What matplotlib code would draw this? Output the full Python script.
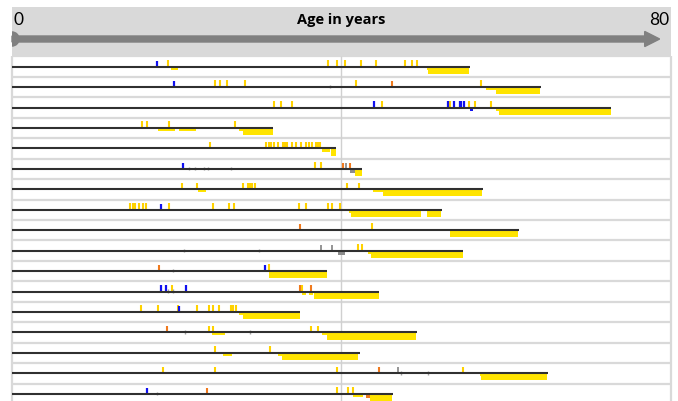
import numpy as np
import matplotlib.pyplot as plt
from matplotlib.patches import Rectangle, Ellipse, FancyArrow

# one entry per person (row), ages in years
life_end = [55.65, 64.28, 72.79, 31.70, 39.45, 42.55, 57.26, 52.28, 61.61,
            54.80, 38.33, 44.58, 35.02, 49.20, 42.31, 65.13, 46.32]

yellow_ticks = [
    [18.97, 38.38, 39.48, 40.52, 42.40, 44.29, 47.74, 48.63, 49.20],
    [24.68, 25.29, 26.18, 28.29, 41.86, 57.06],
    [31.85, 32.71, 34.04, 44.95, 53.25, 55.53, 56.26, 58.20],
    [15.84, 16.45, 19.09, 27.11],
    [24.04, 30.9, 31.2, 31.45, 31.89, 32.38, 33.0, 33.2, 33.45, 34.0, 34.5,
     35.1, 35.7, 36.1, 36.5, 36.9, 37.2, 37.5],
    [36.84, 37.57],
    [20.63, 22.53, 28.12, 28.73, 28.94, 29.14, 29.54, 40.73, 42.15],
    [14.35, 14.67, 14.99, 15.40, 15.96, 16.29, 19.09, 24.40, 26.35, 26.99,
     34.86, 35.74, 38.42, 38.94, 39.84],
    [43.81],
    [42.07, 42.55],
    [31.21],
    [19.45, 35.22],
    [15.65, 17.79, 20.22, 22.53, 23.91, 24.40, 25.13, 26.63, 26.91, 27.23],
    [23.91, 24.40, 36.35, 37.17],
    [24.64, 31.37],
    [18.32, 24.68, 39.48, 54.87],
    [39.48, 40.85, 41.46],
]
blue_ticks = [
    [17.59], [19.70], [43.98, 52.97, 53.78, 54.47, 54.63, 54.92], [], [],
    [20.75], [], [18.15], [], [], [30.76], [18.08, 18.69, 21.19], [20.30],
    [], [], [], [16.45],
]
orange_ticks = [
    [], [46.16], [], [], [], [40.21, 41.13], [], [], [35.02], [], [17.87],
    [35.02, 36.32], [], [18.81], [], [44.58], [23.74],
]
# taller grey marks above the line
gray_ticks = [
    [], [], [], [], [], [40.55], [], [], [], [37.53, 38.94], [], [], [], [],
    [], [46.93], [],
]
# tiny grey marks sitting on the line
gray_dots = [
    [], [38.66], [], [], [], [21.5, 22.2, 23.3, 23.8, 26.59], [], [], [],
    [20.95, 30.07], [19.57], [18.93, 19.57], [], [21.03, 28.94],
    [], [47.33, 50.58], [17.59],
]
# (start, end) of thick yellow periods under the line
yellow_bars = [
    [(50.58, 55.56)], [(58.81, 64.16)], [(59.17, 72.79)], [(28.05, 31.70)],
    [(38.78, 39.45)], [(41.67, 42.55)], [(45.11, 57.14)],
    [(41.25, 49.69), (50.49, 52.12)], [(53.25, 61.52)], [(43.61, 54.80)],
    [(31.28, 38.33)], [(36.75, 44.58)], [(28.05, 35.02)], [(38.30, 49.08)],
    [(32.79, 42.07)], [(56.99, 65.05)], [(43.56, 46.24)],
]
# thin yellow periods under the line
thin_bars = [
    [(19.33, 20.18), (50.45, 50.6)], [(57.59, 58.81)], [(58.9, 59.17)],
    [(17.75, 19.82), (20.30, 22.33), (27.60, 28.05)], [(37.69, 38.72)], [],
    [(22.65, 23.59), (43.89, 45.11)], [(41.0, 41.25)], [], [(43.32, 43.61)],
    [], [(35.22, 35.74), (36.15, 36.63)], [(27.60, 28.05)],
    [(24.35, 25.93), (37.69, 38.30)], [(25.69, 26.71), (32.38, 32.79)],
    [(56.86, 56.99)], [(41.46, 42.67)],
]
gray_bars = [[], [], [], [], [], [(41.09, 41.67)], [], [], [], [(39.64, 40.49)],
             [], [], [], [], [], [], []]
orange_bars = [[], [], [], [], [], [], [], [], [], [], [], [], [], [], [], [],
               [(43.00, 43.56)]]
blue_bars = [[], [], [(55.65, 56.05)], [], [], [], [], [], [], [], [], [], [],
             [], [], [], []]

YELLOW = '#FFE400'
TICK_Y = '#FFD200'
BLUE = '#1010F0'
ORANGE = '#F07A1E'
GRAY = '#8C8C8C'

fig = plt.figure(figsize=(6.78, 4.01), dpi=100)
ax = fig.add_axes([0, 0, 1, 1])
ax.set_xlim(-1.459, 80.97)
ax.set_ylim(16.355, -3.263)
ax.axis('off')

n = len(life_end)
rows = np.arange(n)

# header band with the age arrow
band = Rectangle((-0.03, -2.935), 80.15, 2.46, facecolor='#D9D9D9', edgecolor='none', zorder=1)
ax.add_patch(band)
ax.add_patch(FancyArrow(0, -1.355, 78.74, 0, width=0.294, head_width=0.74,
                        head_length=1.82, length_includes_head=True,
                        color='#808080', zorder=2))
dot = Ellipse((0, -1.355), 1.7, 0.69, color='#808080', zorder=2)
ax.add_patch(dot)
dot.set_clip_path(band)
ax.text(0.2, -2.3, '0', fontsize=12.5, family='Lato', va='center', ha='left', zorder=3)
ax.text(79.9, -2.3, '80', fontsize=12.5, family='Lato', va='center', ha='right', zorder=3)
ax.text(40, -2.3, 'Age in years', fontsize=10.5, family='Open Sans', weight='bold',
        va='center', ha='center', zorder=3)

# grid
ax.hlines(np.arange(n + 1) - 0.5, -0.03, 80.12, color='#D9D9D9', lw=1.6, zorder=1)
ax.vlines([-0.03, 80.12], -0.5, n, color='#D9D9D9', lw=1.6, zorder=1)
ax.vlines(40, -0.5, n, color='#D0D0D0', lw=1, zorder=1)

for r in rows:
    for a, b in yellow_bars[r]:
        ax.broken_barh([(a, b - a)], (r + 0.02, 0.33), facecolor=YELLOW, edgecolor='none', zorder=3)
    for a, b in thin_bars[r]:
        ax.broken_barh([(a, b - a)], (r + 0.02, 0.13), facecolor=YELLOW, edgecolor='none', zorder=3)
    for a, b in gray_bars[r]:
        ax.broken_barh([(a, b - a)], (r + 0.02, 0.18), facecolor=GRAY, edgecolor='none', zorder=3)
    for a, b in orange_bars[r]:
        ax.broken_barh([(a, b - a)], (r + 0.02, 0.2), facecolor=ORANGE, edgecolor='none', zorder=3)
    for a, b in blue_bars[r]:
        ax.broken_barh([(a, b - a)], (r + 0.02, 0.13), facecolor=BLUE, edgecolor='none', zorder=3)
    ax.vlines(yellow_ticks[r], r - 0.33, r - 0.04, color=TICK_Y, lw=1.5, zorder=4)
    ax.vlines(blue_ticks[r], r - 0.3, r - 0.04, color=BLUE, lw=1.6, zorder=4)
    ax.vlines(orange_ticks[r], r - 0.3, r - 0.04, color=ORANGE, lw=1.5, zorder=4)
    ax.vlines(gray_ticks[r], r - 0.3, r - 0.04, color=GRAY, lw=1.3, zorder=4)
    ax.vlines(gray_dots[r], r - 0.1, r + 0.06, color='#A0A0A0', lw=1.0, zorder=4)

# life lines
ax.hlines(rows, 0, life_end, color='#303030', lw=1.5, zorder=5)

fig.savefig('out.png', dpi=100)
